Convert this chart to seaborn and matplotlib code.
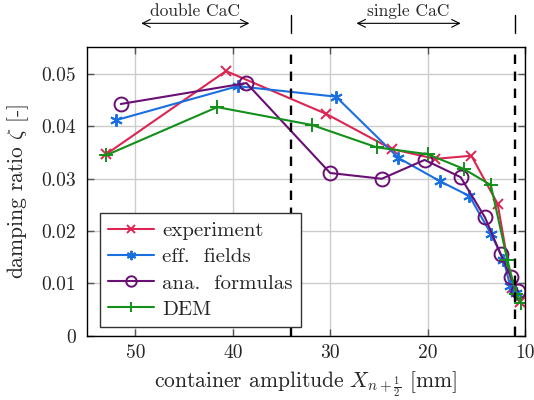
import numpy as np
import pandas as pd
import matplotlib
matplotlib.use("Agg")
import matplotlib.pyplot as plt
import seaborn as sns
from matplotlib.ticker import FuncFormatter, FixedLocator

# damping ratio vs. container amplitude
exp_x = [53.0, 40.7, 30.4, 23.7, 19.2, 15.5, 12.8, 11.3, 10.5]
exp_y = [0.0347, 0.0506, 0.0424, 0.0357, 0.0338, 0.0344, 0.0252, 0.0091, 0.0064]

eff_x = [52.0, 39.5, 29.4, 23.0, 18.7, 15.7, 13.5, 12.2, 11.5, 10.9]
eff_y = [0.0412, 0.0477, 0.0457, 0.0340, 0.0295, 0.0267, 0.0195, 0.0145, 0.0094, 0.0082]

ana_x = [51.5, 38.6, 30.0, 24.7, 20.3, 16.6, 14.1, 12.5, 11.45, 10.7]
ana_y = [0.0443, 0.0483, 0.0311, 0.0300, 0.0336, 0.0303, 0.0226, 0.0156, 0.0112, 0.0085]

dem_x = [53.0, 41.6, 31.9, 25.2, 20.0, 16.3, 13.5, 11.8, 10.9, 10.4]
dem_y = [0.0345, 0.0437, 0.0403, 0.0360, 0.0347, 0.0319, 0.0288, 0.0144, 0.0080, 0.0063]

x_ticks = [50, 40, 30, 20, 10]
y_ticks = [0, 0.01, 0.02, 0.03, 0.04, 0.05]
regime_bounds = [34, 11]

sns.set_theme(style="whitegrid")
plt.rcParams.update({
    "font.family": ["cmr10", "DejaVu Serif"],
    "mathtext.fontset": "cm",
    "axes.unicode_minus": False,
    "axes.formatter.use_mathtext": True,
    "font.size": 14,
    "axes.edgecolor": "black",
    "axes.linewidth": 1.0,
    "grid.color": "#cccccc",
    "grid.linewidth": 1.0,
})

fig = plt.figure(figsize=(5.34, 4.00), dpi=100)
ax = fig.add_axes([0.1624, 0.161, 0.8206, 0.7215])

series = [
    ("experiment", exp_x, exp_y, "#dc2553", "x", 7, "#dc2553"),
    ("eff.  fields", eff_x, eff_y, "#1a6fe0", (6, 2, 0), 9, "#1a6fe0"),
    ("ana.  formulas", ana_x, ana_y, "#6a0f74", "o", 10, "none"),
    ("DEM", dem_x, dem_y, "#13901a", "+", 10, "#13901a"),
]

for name, xs, ys, col, mk, ms, mfc in series:
    df = pd.DataFrame({"amp": xs, "zeta": ys})
    sns.lineplot(data=df, x="amp", y="zeta", ax=ax, sort=False, estimator=None,
                 color=col, marker=mk, markersize=ms, markerfacecolor=mfc,
                 markeredgecolor=col, markeredgewidth=1.4, linewidth=1.5,
                 label=name)

for xb in regime_bounds:
    ax.axvline(xb, color="black", linestyle=(0, (4, 3.2)), linewidth=1.7, zorder=5)

ax.set_xlim(55, 10)
ax.set_ylim(0, 0.0552)
ax.xaxis.set_major_locator(FixedLocator(x_ticks))
ax.yaxis.set_major_locator(FixedLocator(y_ticks))
ax.yaxis.set_major_formatter(FuncFormatter(lambda v, p: "0" if abs(v) < 1e-12 else f"{v:.2f}"))
ax.xaxis.set_major_formatter(FuncFormatter(lambda v, p: f"{v:.0f}"))
ax.tick_params(axis="both", which="major", direction="in", length=5, width=1.0,
               color="#555555", top=True, right=True, bottom=True, left=True,
               labelsize=14)
ax.tick_params(axis="y", pad=8)
ax.tick_params(axis="x", pad=6)
ax.grid(True)
for s in ax.spines.values():
    s.set_color("black")
    s.set_linewidth(1.0)

ax.set_xlabel(r"container amplitude $X_{n+\frac{1}{2}}$ [mm]", fontsize=15.5, labelpad=5)
ax.set_ylabel(r"damping ratio $\zeta$ [-]", fontsize=15.5, labelpad=7)

# regime annotations above the axes
trans = ax.get_xaxis_transform()
for x0, x1, txt in [(49.4, 38.3, "double CaC"), (27.3, 16.6, "single CaC")]:
    ax.annotate("", xy=(x0, 1.082), xytext=(x1, 1.082), xycoords=trans, textcoords=trans,
                arrowprops=dict(arrowstyle="<->", color="black", lw=0.8,
                                shrinkA=0, shrinkB=0), annotation_clip=False)
    ax.text((x0 + x1) / 2, 1.096, txt, transform=trans, ha="center", va="bottom",
            fontsize=12.5)
for xb in regime_bounds:
    ax.plot([xb, xb], [1.05, 1.112], transform=trans, color="black", lw=1.0,
            clip_on=False)

leg = ax.legend(loc="lower left", bbox_to_anchor=(0.03, 0.03), borderaxespad=0,
                fancybox=False, frameon=True, fontsize=15, handlelength=2.2,
                handletextpad=0.4, labelspacing=0.36, borderpad=0.4,
                markerscale=0.75)
leg.get_frame().set_edgecolor("#333333")
leg.get_frame().set_linewidth(1.0)
leg.get_frame().set_alpha(1.0)

fig.savefig("out.png", dpi=100)
